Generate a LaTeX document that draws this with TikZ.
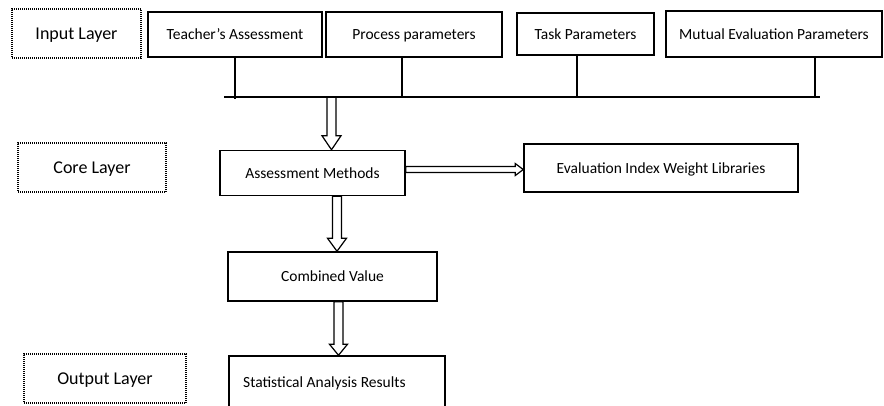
\documentclass[tikz,border=0pt]{standalone}
\usepackage{fontspec}
\setmainfont{Carlito}
\usetikzlibrary{calc}
\begin{document}
\begin{tikzpicture}[x=1pt,y=-1pt,
  box/.style={draw, line width=1.5pt, inner sep=0pt, text depth=0pt, font=\fontsize{15.5}{17}\selectfont},
  layer/.style={draw, line width=1.4pt, dash pattern=on 1pt off 1pt, inner sep=0pt, text depth=0pt, font=\fontsize{18}{20}\selectfont},
  dblarrow/.style n args={3}{line width=1.2pt, line join=miter, to path={
    let \p1=(\tikztostart), \p2=(\tikztotarget), \n1={atan2(\y2-\y1,\x2-\x1)},
        \p3=($(\p2)+(\n1+180:#3)$) in
    ($(\p1)+(\n1+90:#1)$) -- ($(\p3)+(\n1+90:#1)$) -- ($(\p3)+(\n1+90:#2)$) -- (\p2)
    -- ($(\p3)+(\n1-90:#2)$) -- ($(\p3)+(\n1-90:#1)$) -- ($(\p1)+(\n1-90:#1)$) -- cycle}},
  bus/.style={line width=1.5pt}]
\useasboundingbox (0,0) rectangle (884,405);
\clip (0,0) rectangle (884,405);
% layer labels
\node[layer, minimum width=129, minimum height=49] (il) at (76.5,33.5) {Input Layer};
\node[layer, minimum width=148, minimum height=49] (cl) at (92,167.5) {Core Layer};
\node[layer, minimum width=162, minimum height=49] (ol) at (105,378.5) {Output Layer};
% input boxes
\node[box, minimum width=174, minimum height=45] (ta) at (235,34.5) {Teacher’s Assessment};
\node[box, minimum width=176, minimum height=45] (pp) at (414,34.5) {Process parameters};
\node[box, minimum width=137, minimum height=42] (tp) at (585.5,34) {Task Parameters};
\node[box, minimum width=216, minimum height=46] (me) at (774,34) {Mutual Evaluation Parameters};
% bus
\coordinate (busL) at (224,97);
\coordinate (busR) at (820,97);
\coordinate (b1) at (235,99);
\coordinate (b2) at (402,97);
\coordinate (b3) at (577,97);
\coordinate (b4) at (815,97);
\draw[bus] (busL) -- (busR);
\draw[bus] (b1 |- ta.south) -- (b1);
\draw[bus] (b2 |- pp.south) -- (b2);
\draw[bus] (b3 |- tp.south) -- (b3);
\draw[bus] (b4 |- me.south) -- (b4);
% core
\node[box, minimum width=185, minimum height=45] (am) at (312.5,173) {Assessment Methods};
\node[box, minimum width=274, minimum height=48] (ev) at (661,168) {Evaluation Index Weight Libraries};
\node[box, minimum width=209, minimum height=49] (cv) at (332.5,276.5) {Combined Value};
% output
\node[box, minimum width=216, minimum height=64] (sr) at (337,388) {};
\node[anchor=west, inner sep=0pt, font=\fontsize{15.5}{17}\selectfont] (srt) at (243,383) {Statistical Analysis Results};
% arrows
\coordinate (a1) at (331.5,97);
\coordinate (a2) at (337,0);
\coordinate (a3) at (338.5,0);
\draw[dblarrow={4.5pt}{9.5pt}{14pt}] (a1) to (am.north -| a1);
\draw[dblarrow={3pt}{6pt}{8pt}] (am.east |- 0,169.5) to (ev.west |- 0,169.5);
\draw[dblarrow={4.5pt}{9.5pt}{13pt}] (am.south -| a2) to (cv.north -| a2);
\draw[dblarrow={4.5pt}{9pt}{11pt}] (cv.south -| a3) to (sr.north -| a3);
\end{tikzpicture}
\end{document}
